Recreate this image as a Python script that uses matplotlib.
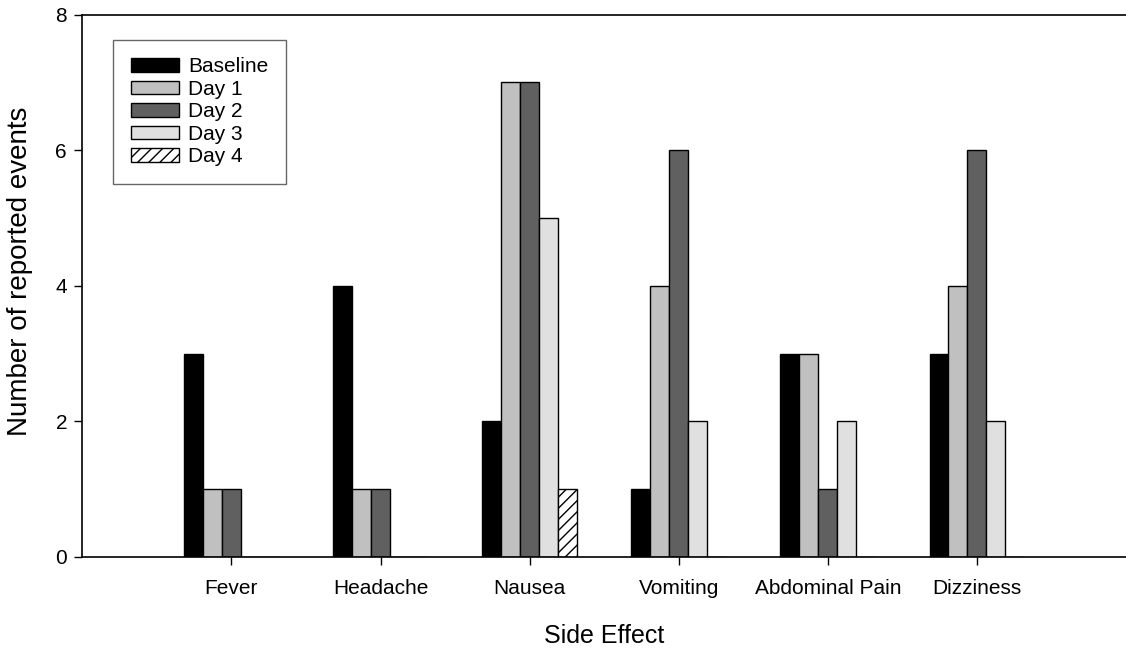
import numpy as np
import matplotlib.pyplot as plt

plt.rcParams["font.family"] = ["Liberation Sans", "DejaVu Sans"]
plt.rcParams["hatch.linewidth"] = 1.0

# ---- data ----
effects = ["Fever", "Headache", "Nausea", "Vomiting", "Abdominal Pain", "Dizziness"]
series = ["Baseline", "Day 1", "Day 2", "Day 3", "Day 4"]
baseline = [3, 4, 2, 1, 3, 3]
day1 = [1, 1, 7, 4, 3, 4]
day2 = [1, 1, 7, 6, 1, 6]
day3 = [0, 0, 5, 2, 2, 2]
day4 = [0, 0, 1, 0, 0, 0]

values = [baseline, day1, day2, day3, day4]
colors = ["#000000", "#c0c0c0", "#606060", "#e0e0e0", "#ffffff"]
hatches = [None, None, None, None, "///"]

fig = plt.figure(figsize=(11.26, 6.52), dpi=100)
ax = fig.add_axes([0.0731, 0.146, 0.9269, 0.8315])

x = np.arange(1, len(effects) + 1)
w = 0.127
for i, (name, vals) in enumerate(zip(series, values)):
    ax.bar(x + (i - 2) * w, vals, width=w, color=colors[i], edgecolor="black",
           linewidth=1.0, hatch=hatches[i], label=name, zorder=2)

ax.set_xlim(0, 7)
ax.set_ylim(0, 8)
ax.set_xticks(x)
ax.set_xticklabels(effects, fontsize=15)
ax.set_yticks([0, 2, 4, 6, 8])
ax.tick_params(axis="y", labelsize=15, direction="out", length=6, width=1, pad=5)
ax.tick_params(axis="x", direction="out", length=6, width=1, pad=10)
ax.spines["right"].set_visible(False)
for s in ["left", "bottom", "top"]:
    ax.spines[s].set_linewidth(1.2)

ax.set_xlabel("Side Effect", fontsize=18, labelpad=19)
ax.set_ylabel("Number of reported events", fontsize=20)
ax.yaxis.set_label_coords(-0.047, 0.526)

leg = ax.legend(loc="upper left", bbox_to_anchor=(0.0297, 0.954), fontsize=15,
                frameon=True, fancybox=False, edgecolor="#404040",
                handlelength=2.3, handleheight=0.62, labelspacing=0.17,
                borderpad=0.85, handletextpad=0.45, borderaxespad=0)
leg.get_frame().set_linewidth(1.0)

fig.savefig("out.png", dpi=100)
